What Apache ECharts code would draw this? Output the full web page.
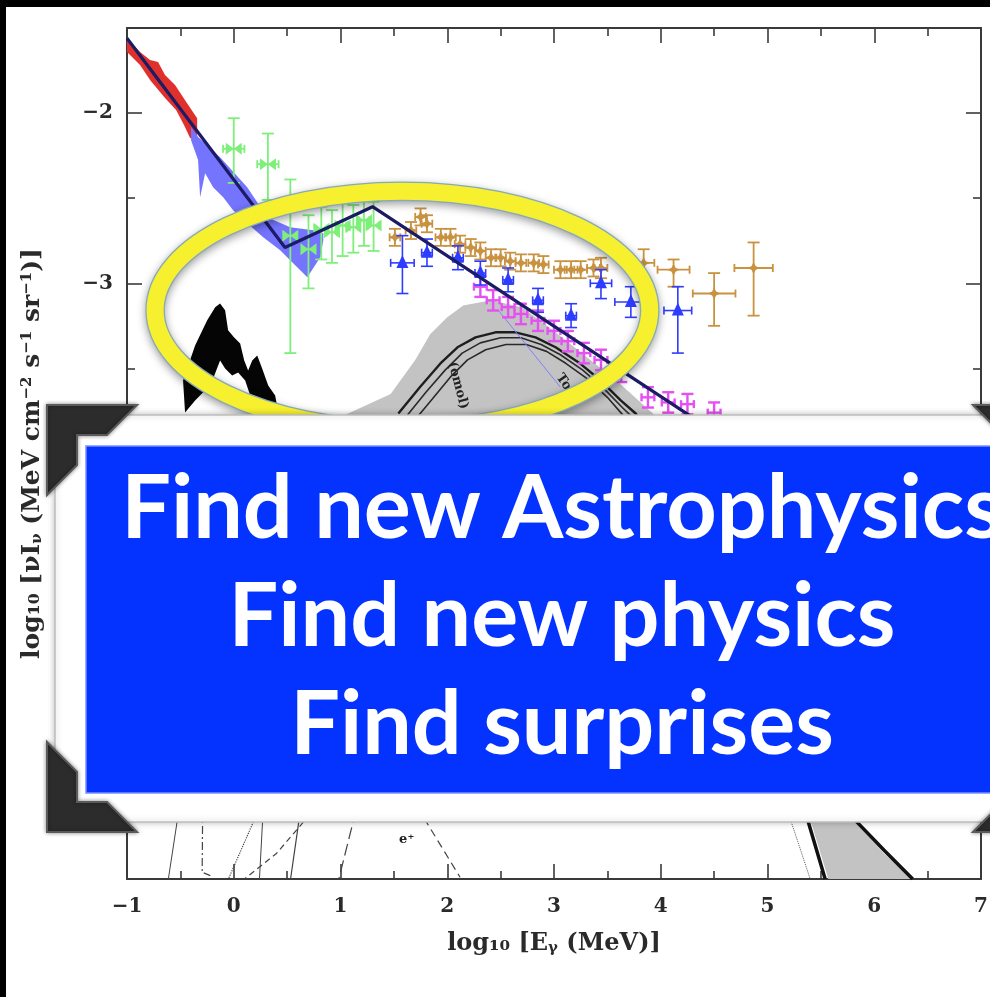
<!DOCTYPE html>
<html>
<head>
<meta charset="utf-8">
<script src="https://cdn.jsdelivr.net/npm/echarts@6/dist/echarts.min.js"></script>
<style>
  html, body { margin: 0; padding: 0; background: #fff; }
  #chart { width: 990px; height: 997px; }
</style>
</head>
<body>
<div id="chart"></div>
<script>
// Diffuse gamma-ray background: log10 E (MeV) vs log10 nu*I_nu

// axis ticks
const xMajor = [-1, 0, 1, 2, 3, 4, 5, 6, 7];
const yMajor = [-6, -5, -4, -3, -2];
const yMinor = [-6.5, -5.5, -4.5, -3.5, -2.5, -1.5];

// low-energy band (red)
const redBand = [[-1, -1.559], [-0.878, -1.641], [-0.784, -1.688], [-0.709, -1.700], [-0.644, -1.776],
  [-0.55, -1.835], [-0.456, -1.924], [-0.343, -2.03], [-0.343, -2.159], [-0.409, -2.147],
  [-0.465, -2.071], [-0.54, -1.982], [-0.644, -1.912], [-0.784, -1.806], [-0.878, -1.718], [-1, -1.641]];

// MeV band (blue)
const blueBand = [[-0.40, -2.08], [-0.334, -2.141], [-0.128, -2.259], [0.126, -2.435], [0.313, -2.612],
  [0.529, -2.671], [0.745, -2.688], [0.839, -2.706], [0.839, -2.747], [0.811, -2.847], [0.689, -2.965],
  [0.557, -2.882], [0.435, -2.806], [0.276, -2.729], [0.126, -2.647], [-0.006, -2.571], [-0.099, -2.494],
  [-0.193, -2.435], [-0.268, -2.353], [-0.315, -2.494], [-0.334, -2.276], [-0.40, -2.16]];

// broken power-law fit
const fitLine = [[-1, -1.56], [0.48, -2.79], [1.30, -2.55], [4.29, -3.785], [5.6, -4.33]];

// error-bar points: [x, y, yLow, yHigh, xErr]
const greenPts = [
  [0.00, -2.21, -2.41, -2.03, 0.10], [0.32, -2.30, -2.51, -2.12, 0.10],
  [0.53, -2.72, -3.41, -2.39, 0.06], [0.70, -2.80, -3.03, -2.60, 0.06],
  [0.82, -2.68, -2.86, -2.55, 0.05], [0.92, -2.70, -2.88, -2.57, 0.05],
  [1.02, -2.66, -2.84, -2.53, 0.05], [1.12, -2.67, -2.82, -2.54, 0.05],
  [1.22, -2.63, -2.78, -2.50, 0.05], [1.31, -2.66, -2.81, -2.52, 0.05]];

const orangePts = [
  [1.51, -2.73, -2.78, -2.68, 0.05], [1.66, -2.69, -2.74, -2.64, 0.05], [1.75, -2.61, -2.66, -2.56, 0.05],
  [1.81, -2.65, -2.70, -2.60, 0.05], [1.94, -2.73, -2.78, -2.68, 0.05], [2.03, -2.73, -2.78, -2.68, 0.05],
  [2.12, -2.77, -2.82, -2.72, 0.05], [2.22, -2.79, -2.84, -2.74, 0.05], [2.31, -2.81, -2.86, -2.76, 0.05],
  [2.41, -2.85, -2.90, -2.80, 0.05], [2.50, -2.85, -2.90, -2.80, 0.05], [2.59, -2.87, -2.92, -2.82, 0.05],
  [2.69, -2.88, -2.93, -2.83, 0.05], [2.81, -2.88, -2.93, -2.83, 0.05], [2.90, -2.89, -2.94, -2.84, 0.05],
  [3.06, -2.92, -2.97, -2.87, 0.06], [3.16, -2.92, -2.97, -2.87, 0.06], [3.25, -2.92, -2.97, -2.87, 0.06],
  [3.37, -2.91, -2.96, -2.86, 0.06], [3.44, -2.91, -2.97, -2.85, 0.06], [3.84, -2.88, -2.96, -2.80, 0.10],
  [4.12, -2.92, -3.02, -2.86, 0.15], [4.50, -3.06, -3.25, -2.94, 0.20], [4.87, -2.91, -3.19, -2.76, 0.18]];

const trianglePts = [
  [1.58, -2.88, -3.06, -2.72, 0.11], [1.81, -2.82, -2.90, -2.74, 0.05], [2.10, -2.85, -2.92, -2.78, 0.05],
  [2.31, -2.94, -3.01, -2.87, 0.05], [2.57, -2.98, -3.05, -2.91, 0.05], [2.85, -3.10, -3.17, -3.03, 0.05],
  [3.16, -3.19, -3.26, -3.12, 0.05], [3.44, -3.00, -3.09, -2.92, 0.10], [3.72, -3.11, -3.20, -3.02, 0.15],
  [4.16, -3.16, -3.41, -3.02, 0.13]];

const magentaPts = [
  [2.31, -3.02, -3.08, -2.96, 0.06], [2.43, -3.10, -3.16, -3.04, 0.06], [2.57, -3.14, -3.20, -3.08, 0.06],
  [2.69, -3.18, -3.24, -3.12, 0.06], [2.85, -3.22, -3.28, -3.16, 0.06], [3.00, -3.28, -3.34, -3.22, 0.06],
  [3.13, -3.34, -3.40, -3.28, 0.06], [3.28, -3.41, -3.47, -3.35, 0.06], [3.44, -3.45, -3.51, -3.39, 0.06],
  [3.63, -3.52, -3.58, -3.46, 0.06], [3.88, -3.67, -3.73, -3.61, 0.06], [4.07, -3.70, -3.76, -3.64, 0.06],
  [4.25, -3.71, -3.77, -3.65, 0.06], [4.50, -3.76, -3.82, -3.70, 0.06]];

// thin model line and its label
const thinBlue = [[2.48, -3.16], [3.06, -3.61]];

// black source band at ~1 MeV
const blackBand = [[-0.475, -3.571], [-0.362, -3.365], [-0.25, -3.218], [-0.174, -3.141], [-0.128, -3.118],
  [-0.081, -3.159], [-0.053, -3.276], [0.004, -3.318], [0.06, -3.353], [0.098, -3.453], [0.135, -3.512],
  [0.173, -3.453], [0.22, -3.424], [0.266, -3.5], [0.323, -3.6], [0.388, -3.659], [0.417, -3.759],
  [0.341, -3.759], [0.229, -3.688], [0.154, -3.659], [0.107, -3.571], [0.041, -3.524], [-0.015, -3.541],
  [-0.081, -3.5], [-0.128, -3.453], [-0.193, -3.559], [-0.268, -3.629], [-0.362, -3.688], [-0.456, -3.759]];

// grey model envelope
const greyBand = [[0.95, -3.80], [1.02, -3.78], [1.47, -3.65], [1.70, -3.45], [1.84, -3.30], [2.0, -3.20],
  [2.15, -3.13], [2.41, -3.10], [2.7, -3.14], [3.0, -3.28], [3.3, -3.43], [3.6, -3.58], [3.9, -3.75],
  [4.3, -3.97], [5.0, -4.6], [5.5, -5.3], [5.86, -6.19], [6.09, -6.35], [6.36, -6.5],
  [5.57, -6.5], [5.42, -6.19], [4.8, -5.4], [3.8, -4.6], [2.5, -4.1], [1.5, -3.9], [0.95, -3.85]];

// model curves inside the envelope
const curveA = [[1.542, -3.765], [1.749, -3.606], [1.936, -3.471], [2.096, -3.376], [2.265, -3.318],
  [2.452, -3.288], [2.64, -3.288], [2.827, -3.318], [3.015, -3.376], [3.231, -3.465], [3.437, -3.571],
  [3.625, -3.688], [3.765, -3.765], [4.2, -4.2]];
const curveB = [[1.62, -3.78], [1.80, -3.64], [1.98, -3.51], [2.14, -3.41], [2.31, -3.35], [2.50, -3.32],
  [2.69, -3.32], [2.88, -3.36], [3.06, -3.42], [3.27, -3.51], [3.47, -3.62], [3.64, -3.73], [3.74, -3.79], [4.1, -4.2]];
const curveC = [[1.70, -3.80], [1.86, -3.68], [2.03, -3.55], [2.19, -3.45], [2.36, -3.39], [2.55, -3.36],
  [2.74, -3.36], [2.93, -3.40], [3.11, -3.47], [3.31, -3.56], [3.50, -3.67], [3.64, -3.77], [4.0, -4.2]];

// high-energy cut-off edges
const edgeLeft = [[5.30, -5.9], [5.38, -6.16], [5.54, -6.5]];
const edgeRight = [[5.70, -5.9], [5.83, -6.16], [6.09, -6.33], [6.36, -6.5]];
const edgeDotted = [[5.15, -5.9], [5.22, -6.16], [5.40, -6.5]];

// low-level components near the bottom
const lowSolid1 = [[-0.50, -6.0], [-0.53, -6.16], [-0.615, -6.51]];
const lowDashDot = [[-0.29, -6.0], [-0.296, -6.46], [-0.22, -6.48]];
const lowDotted = [[0.25, -6.0], [0.18, -6.17], [-0.05, -6.5]];
const lowSolid2 = [[0.28, -6.0], [0.27, -6.16], [0.24, -6.51]];
const lowDashed1 = [[0.75, -6.0], [0.66, -6.16], [0.4, -6.35], [0.1, -6.5]];
const lowSolid3 = [[0.63, -6.0], [0.61, -6.16], [0.53, -6.51]];
const lowLongDash = [[1.16, -6.0], [1.12, -6.16], [0.98, -6.51]];
const lowDashed2 = [[1.7, -6.0], [1.8, -6.16], [2.12, -6.49]];

// text annotations: [x, y, text, rotation in degrees]
const annotations = [[1.62, -6.27, 'e\u207A', 0], [3.09, -3.58, 'To', -55], [2.10, -3.60, '(omol)', -75]];

// highlight ring: centre (data) and radii (data units)
const ringCenter = [1.58, -3.159];
const ringRadii = [2.317, 0.70];

const messageLines = ['Find new Astrophysics', 'Find new physics', 'Find surprises'];

// ---------------------------------------------------------------
const chart = echarts.init(document.getElementById('chart'), null, { renderer: 'canvas' });
const AXIS_COLOR = '#3a3a3a';
const TEXT_COLOR = '#2a2a2a';
const SERIF = '"DejaVu Serif", "Liberation Serif", serif';
const minus = v => (v < 0 ? '\u2212' : '') + Math.abs(v);

function polygonSeries(pts, color, z) {
  return {
    type: 'custom', xAxisIndex: 0, yAxisIndex: 0, z: z, silent: true, clip: true,
    data: pts,
    renderItem: (params, api) => params.dataIndex !== 0 ? null : {
      type: 'polygon', shape: { points: pts.map(p => api.coord(p)) }, style: { fill: color }
    }
  };
}

function lineSeries(pts, color, width, type, z) {
  return {
    type: 'line', xAxisIndex: 0, yAxisIndex: 0, data: pts, showSymbol: false, silent: true,
    z: z, smooth: false, animation: false,
    lineStyle: { color: color, width: width, type: type || 'solid' }
  };
}

function errorSeries(rows, color, marker, z, lw) {
  return {
    type: 'custom', xAxisIndex: 0, yAxisIndex: 0, z: z, silent: true, clip: true,
    data: rows,
    renderItem: (params, api) => {
      const x = api.value(0), y = api.value(1), lo = api.value(2), hi = api.value(3), xe = api.value(4);
      const c = api.coord([x, y]);
      const pLo = api.coord([x, lo]), pHi = api.coord([x, hi]);
      const pL = api.coord([x - xe, y]), pR = api.coord([x + xe, y]);
      const cap = 6;
      const st = { stroke: color, lineWidth: lw || 1.6, fill: null };
      const kids = [
        { type: 'line', shape: { x1: c[0], y1: pLo[1], x2: c[0], y2: pHi[1] }, style: st },
        { type: 'line', shape: { x1: c[0] - cap, y1: pLo[1], x2: c[0] + cap, y2: pLo[1] }, style: st },
        { type: 'line', shape: { x1: c[0] - cap, y1: pHi[1], x2: c[0] + cap, y2: pHi[1] }, style: st },
        { type: 'line', shape: { x1: pL[0], y1: c[1], x2: pR[0], y2: c[1] }, style: st },
        { type: 'line', shape: { x1: pL[0], y1: c[1] - 4, x2: pL[0], y2: c[1] + 4 }, style: st },
        { type: 'line', shape: { x1: pR[0], y1: c[1] - 4, x2: pR[0], y2: c[1] + 4 }, style: st }
      ];
      if (marker === 'triangle') {
        kids.push({ type: 'polygon', shape: { points: [[c[0], c[1] - 8], [c[0] - 6, c[1] + 5], [c[0] + 6, c[1] + 5]] },
          style: { fill: color } });
      } else if (marker === 'bowtie') {
        kids.push({ type: 'polygon', shape: { points: [[c[0] - 8, c[1] - 6], [c[0] - 8, c[1] + 6], [c[0], c[1]]] }, style: { fill: color } });
        kids.push({ type: 'polygon', shape: { points: [[c[0] + 8, c[1] - 6], [c[0] + 8, c[1] + 6], [c[0], c[1]]] }, style: { fill: color } });
      } else if (marker === 'star') {
        kids.push({ type: 'polygon', shape: { points: [[c[0], c[1] - 6], [c[0] + 2, c[1] - 2], [c[0] + 6, c[1]], [c[0] + 2, c[1] + 2],
          [c[0], c[1] + 6], [c[0] - 2, c[1] + 2], [c[0] - 6, c[1]], [c[0] - 2, c[1] - 2]] }, style: { fill: color } });
      }
      return { type: 'group', children: kids };
    }
  };
}

const textSeries = {
  type: 'custom', xAxisIndex: 0, yAxisIndex: 0, z: 6, silent: true, clip: true,
  data: annotations,
  renderItem: (params, api) => {
    const a = annotations[params.dataIndex];
    const p = api.coord([a[0], a[1]]);
    return {
      type: 'text', x: p[0], y: p[1], rotation: a[3] * Math.PI / 180,
      style: { text: a[2], fill: '#222', font: 'bold 13px ' + SERIF, align: 'center', verticalAlign: 'middle' }
    };
  }
};

const ringSeries = {
  type: 'custom', xAxisIndex: 0, yAxisIndex: 0, z: 20, silent: true, clip: false,
  data: [ringCenter],
  renderItem: (params, api) => {
    const c = api.coord(ringCenter);
    const e = api.coord([ringCenter[0] + ringRadii[0], ringCenter[1] + ringRadii[1]]);
    const rx = e[0] - c[0], ry = c[1] - e[1];
    return {
      type: 'group', children: [
        { type: 'ellipse', shape: { cx: c[0], cy: c[1], rx: rx, ry: ry },
          style: { fill: null, stroke: '#86a9bb', lineWidth: 19.5, shadowBlur: 9, shadowOffsetY: 3, shadowColor: 'rgba(0,0,0,0.38)' } },
        { type: 'ellipse', shape: { cx: c[0], cy: c[1], rx: rx, ry: ry },
          style: { fill: null, stroke: '#f7f02e', lineWidth: 17 } }
      ]
    };
  }
};

function xAxisDef(pos, labels) {
  return {
    type: 'value', position: pos, min: -1, max: 7, interval: 1,
    axisLine: { show: true, onZero: false, lineStyle: { color: AXIS_COLOR, width: 2 } },
    axisTick: { show: true, inside: true, length: 15, lineStyle: { color: AXIS_COLOR, width: 1.6 } },
    minorTick: { show: true, splitNumber: 2, length: 8, lineStyle: { color: AXIS_COLOR, width: 1.6 } },
    splitLine: { show: false }, minorSplitLine: { show: false },
    axisLabel: labels ? { show: true, margin: 18, color: TEXT_COLOR, fontFamily: SERIF, fontWeight: 'bold', fontSize: 20, formatter: minus } : { show: false },
    name: labels ? 'log\u2081\u2080 [E{sub|\u03B3} (MeV)]' : '',
    nameLocation: 'middle', nameGap: 53,
    nameTextStyle: { color: TEXT_COLOR, fontFamily: SERIF, fontWeight: 'bold', fontSize: 24,
      rich: { sub: { fontFamily: SERIF, fontWeight: 'bold', fontSize: 15, verticalAlign: 'bottom', padding: [9, 0, 0, 0] } } }
  };
}

function yMajorDef(pos, labels) {
  return {
    type: 'value', position: pos, min: -6.5, max: -1.5,
    axisLine: { show: true, onZero: false, lineStyle: { color: AXIS_COLOR, width: 2 } },
    axisTick: { show: true, inside: true, length: 15, customValues: yMajor, lineStyle: { color: AXIS_COLOR, width: 1.6 } },
    splitLine: { show: false },
    axisLabel: labels ? { show: true, margin: 14, customValues: yMajor, color: TEXT_COLOR, fontFamily: SERIF, fontWeight: 'bold', fontSize: 20, formatter: minus } : { show: false },
    name: labels ? 'log\u2081\u2080 [\u03BDI{sub|\u03BD} (MeV cm{sup|\u22122} s{sup|\u22121} sr{sup|\u22121})]' : '',
    nameLocation: 'middle', nameGap: 82, nameRotate: 90,
    nameTextStyle: { color: TEXT_COLOR, fontFamily: SERIF, fontWeight: 'bold', fontSize: 25,
      rich: {
        sub: { fontFamily: SERIF, fontWeight: 'bold', fontSize: 15, verticalAlign: 'bottom', padding: [9, 0, 0, 0] },
        sup: { fontFamily: SERIF, fontWeight: 'bold', fontSize: 15, verticalAlign: 'top', padding: [0, 0, 9, 0] }
      } }
  };
}

function yMinorDef(pos) {
  return {
    type: 'value', position: pos, min: -6.5, max: -1.5,
    axisLine: { show: false, onZero: false },
    axisTick: { show: true, inside: true, length: 8, customValues: yMinor, lineStyle: { color: AXIS_COLOR, width: 1.6 } },
    splitLine: { show: false }, axisLabel: { show: false }
  };
}

const W = 990;
const boxLeft = 55, boxTop = 415, boxBottom = 822;
const blueLeft = 86, blueTop = 446, blueBottom = 793;
const textCenterX = 562;
const firstLineTop = 466, lineStep = 108;

function bracket(points) {
  return {
    type: 'polygon', z: 110, shape: { points: points },
    style: { fill: '#2c2c2c', stroke: '#5a5a5a', lineWidth: 2, shadowBlur: 4, shadowColor: 'rgba(0,0,0,0.4)' }
  };
}

const option = {
  backgroundColor: '#ffffff',
  animation: false,
  grid: { left: 127, right: 9, top: 28, bottom: 118, containLabel: false, outerBoundsMode: 'none' },
  xAxis: [xAxisDef('bottom', true), xAxisDef('top', false)],
  yAxis: [yMajorDef('left', true), yMinorDef('left'), yMajorDef('right', false), yMinorDef('right')],
  series: [
    polygonSeries(greyBand, '#c3c3c3', 2),
    polygonSeries(blackBand, '#050505', 3),
    polygonSeries(redBand, '#e0302c', 3),
    polygonSeries(blueBand, '#7474ff', 3),
    lineSeries(curveA, '#1e1e1e', 2.4, 'solid', 4),
    lineSeries(curveB, '#2a2a2a', 1.6, 'solid', 4),
    lineSeries(curveC, '#2a2a2a', 1.6, 'solid', 4),
    lineSeries(edgeLeft, '#111', 3.5, 'solid', 4),
    lineSeries(edgeRight, '#111', 3.5, 'solid', 4),
    lineSeries(edgeDotted, '#555', 1, 'dotted', 4),
    lineSeries(lowSolid1, '#444', 1, 'solid', 4),
    lineSeries(lowDashDot, '#444', 1.2, [8, 3, 2, 3], 4),
    lineSeries(lowDotted, '#444', 1.2, 'dotted', 4),
    lineSeries(lowSolid2, '#444', 1, 'solid', 4),
    lineSeries(lowDashed1, '#444', 1.2, [6, 4], 4),
    lineSeries(lowSolid3, '#444', 1.2, 'solid', 4),
    lineSeries(lowLongDash, '#444', 1.2, [12, 5], 4),
    lineSeries(lowDashed2, '#444', 1.2, [8, 5], 4),
    lineSeries(thinBlue, '#8080ff', 1, 'solid', 4),
    errorSeries(greenPts, '#7ef07a', 'bowtie', 5, 1.8),
    errorSeries(orangePts, '#c99240', 'star', 5, 1.8),
    errorSeries(magentaPts, '#e450f2', 'none', 5, 2.4),
    errorSeries(trianglePts, '#2e3cff', 'triangle', 6, 1.6),
    lineSeries(fitLine, '#1b1b66', 3.2, 'solid', 7),
    textSeries,
    ringSeries
  ],
  graphic: [
    // white frame with blue message panel
    { type: 'rect', z: 100, shape: { x: boxLeft, y: boxTop, width: W + 60 - boxLeft, height: boxBottom - boxTop },
      style: { fill: '#ffffff', stroke: '#bdbdbd', lineWidth: 1.5, shadowBlur: 6, shadowColor: 'rgba(0,0,0,0.25)' } },
    { type: 'rect', z: 101, shape: { x: blueLeft, y: blueTop, width: W + 60 - blueLeft, height: blueBottom - blueTop },
      style: { fill: '#0433ff', stroke: '#7b8dff', lineWidth: 1.5 } },
    ...messageLines.map((t, i) => ({
      type: 'text', z: 102, x: textCenterX, y: firstLineTop + i * lineStep,
      style: { text: t, fill: '#ffffff', font: 'bold 88px Lato, "Open Sans", sans-serif', align: 'center', verticalAlign: 'top' }
    })),
    // corner brackets
    bracket([[47, 405], [137, 405], [107, 435], [77, 435], [77, 465], [47, 495]]),
    bracket([[47, 832], [137, 832], [107, 802], [77, 802], [77, 772], [47, 742]]),
    bracket([[1063, 405], [973, 405], [1003, 435], [1033, 435], [1033, 465], [1063, 495]]),
    bracket([[1063, 832], [973, 832], [1003, 802], [1033, 802], [1033, 772], [1063, 742]]),
    // dark border strips
    { type: 'rect', z: 200, shape: { x: 0, y: 0, width: W, height: 7 }, style: { fill: '#000' } },
    { type: 'rect', z: 200, shape: { x: 0, y: 0, width: 6, height: 997 }, style: { fill: '#000' } }
  ]
};

chart.setOption(option);
</script>
</body>
</html>
